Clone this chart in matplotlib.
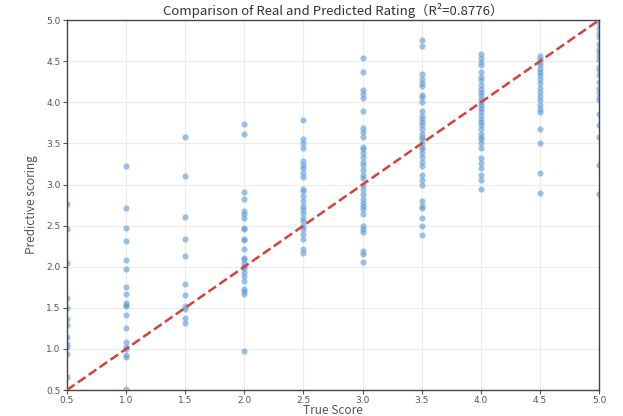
import matplotlib
matplotlib.use('Agg')
import matplotlib.pyplot as plt
import numpy as np

plt.rcParams['font.family'] = ['Noto Sans CJK SC', 'DejaVu Sans']

# true score levels and predicted ratings
true_levels = [0.5, 1.0, 1.5, 2.0, 2.5, 3.0, 3.5, 4.0, 4.5, 5.0]
pred_05 = [2.76, 2.46, 2.05, 1.62, 1.50, 1.36, 1.29, 1.14, 1.06, 1.02, 0.94, 0.66]
pred_10 = [3.22, 2.71, 2.47, 2.31, 2.08, 1.97, 1.75, 1.67, 1.56, 1.54, 1.52, 1.41,
           1.25, 1.09, 1.02, 1.00, 0.92, 0.90, 0.51]
pred_15 = [3.58, 3.11, 2.60, 2.34, 2.13, 1.79, 1.65, 1.52, 1.49, 1.38, 1.32]
pred_20 = [3.74, 3.61, 2.91, 2.83, 2.68, 2.64, 2.59, 2.47, 2.46, 2.34, 2.33, 2.22,
           2.11, 2.10, 2.05, 2.01, 1.98, 1.93, 1.89, 1.83, 1.73, 1.70, 1.67, 0.98]
pred_25 = [3.78, 3.56, 3.51, 3.44, 3.29, 3.24, 3.20, 3.14, 3.09, 2.95, 2.92, 2.86,
           2.80, 2.74, 2.70, 2.65, 2.59, 2.56, 2.50, 2.46, 2.40, 2.34, 2.22, 2.17]
pred_30 = [4.54, 4.37, 4.15, 4.10, 4.05, 3.89, 3.69, 3.64, 3.58, 3.46, 3.43, 3.38,
           3.34, 3.28, 3.24, 3.18, 3.12, 3.08, 3.00, 2.94, 2.88, 2.83, 2.77, 2.74,
           2.70, 2.64, 2.50, 2.46, 2.42, 2.19, 2.16, 2.06]
pred_35 = [4.76, 4.68, 4.35, 4.28, 4.24, 4.20, 4.09, 4.07, 4.01, 3.89, 3.84, 3.80,
           3.76, 3.73, 3.68, 3.62, 3.58, 3.56, 3.50, 3.46, 3.43, 3.38, 3.34, 3.28,
           3.23, 3.12, 3.06, 3.00, 2.80, 2.74, 2.71, 2.59, 2.50, 2.39]
pred_40 = [4.59, 4.54, 4.49, 4.45, 4.37, 4.31, 4.27, 4.21, 4.16, 4.13, 4.09, 4.04,
           4.01, 3.97, 3.93, 3.90, 3.85, 3.80, 3.76, 3.73, 3.68, 3.62, 3.58, 3.55,
           3.50, 3.45, 3.32, 3.26, 3.20, 3.12, 3.06, 2.94]
pred_45 = [4.57, 4.53, 4.49, 4.45, 4.41, 4.37, 4.33, 4.28, 4.23, 4.17, 4.13, 4.08,
           4.03, 3.97, 3.92, 3.88, 3.68, 3.51, 3.14, 2.90]
pred_50 = [4.97, 4.91, 4.85, 4.79, 4.71, 4.65, 4.61, 4.57, 4.51, 4.43, 4.39, 4.33,
           4.25, 4.17, 4.13, 4.07, 4.03, 3.86, 3.73, 3.58, 3.24, 2.88]
r2 = 0.8776

columns = [pred_05, pred_10, pred_15, pred_20, pred_25,
           pred_30, pred_35, pred_40, pred_45, pred_50]
y_true = np.concatenate([[t] * len(c) for t, c in zip(true_levels, columns)])
y_pred = np.concatenate(columns)

fig = plt.figure(figsize=(6.23, 4.16), dpi=100)
ax = fig.add_axes([0.1075, 0.0625, 0.854, 0.889])

ax.grid(True, color='#ececec', linewidth=0.8)
ax.set_axisbelow(True)
ax.scatter(y_true, y_pred, s=16, color='#5a9ad9', alpha=0.6,
           edgecolors='#8ab8e6', linewidths=0.5, zorder=2)
lo, hi = 0.5, 5.0
ax.plot([lo, hi], [lo, hi], '--', color='#d8413a', linewidth=1.8, zorder=3)

ax.set_xlim(lo, hi)
ax.set_ylim(lo, hi)
ticks = np.arange(0.5, 5.01, 0.5)
ax.set_xticks(ticks)
ax.set_yticks(ticks)
ax.tick_params(labelsize=6.5, colors='#555555', length=3, width=0.8, pad=1.5)
for lab in ax.get_xticklabels() + ax.get_yticklabels():
    lab.set_family('DejaVu Sans')
for s in ax.spines.values():
    s.set_color('#444444')
    s.set_linewidth(1.0)

ax.set_xlabel('True Score', fontsize=8.5, color='#555555', labelpad=-1)
ax.set_ylabel('Predictive scoring', fontsize=8.5, color='#555555', labelpad=6)
ax.set_title('Comparison of Real and Predicted Rating（R²=%.4f）' % r2,
             fontsize=9.5, color='#333333', pad=4)

fig.savefig('out.png', dpi=100, facecolor='white')
